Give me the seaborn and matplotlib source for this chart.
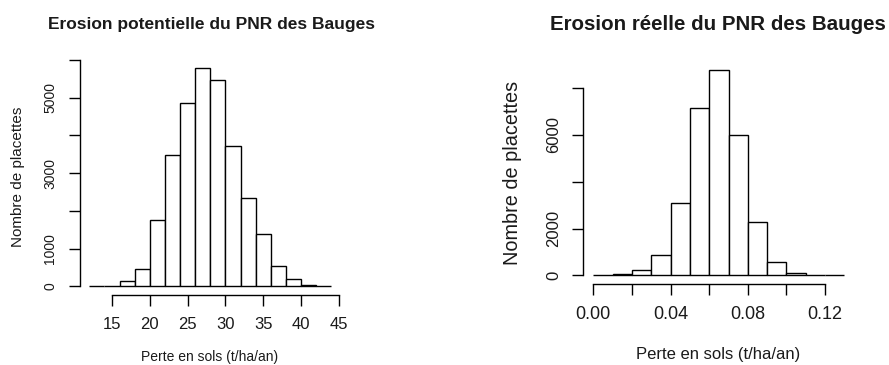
import numpy as np
import pandas as pd
import matplotlib
matplotlib.use("Agg")
import matplotlib.pyplot as plt
import seaborn as sns

# Potential erosion: bin edges (t/ha/an) and number of plots per bin
pot_edges = [12, 14, 16, 18, 20, 22, 24, 26, 28, 30, 32, 34, 36, 38, 40, 42, 44]
pot_counts = [0, 0, 133, 451, 1743, 3469, 4858, 5779, 5460, 3717, 2327, 1372, 549, 186, 35, 0]

# Actual erosion: bin edges (t/ha/an) and number of plots per bin
reel_edges = [0.00, 0.01, 0.02, 0.03, 0.04, 0.05, 0.06, 0.07, 0.08, 0.09, 0.10, 0.11, 0.12, 0.13]
reel_counts = [0, 57, 229, 886, 3100, 7157, 8771, 5986, 2271, 571, 100, 0, 0]

pot_xticks = [15, 20, 25, 30, 35, 40, 45]
pot_yticks = [0, 1000, 2000, 3000, 4000, 5000, 6000]
pot_ylabels = ["0", "1000", "", "3000", "", "5000", ""]
reel_xticks = [0.00, 0.02, 0.04, 0.06, 0.08, 0.10, 0.12]
reel_xlabels = ["0.00", "", "0.04", "", "0.08", "", "0.12"]
reel_yticks = [0, 2000, 4000, 6000, 8000]
reel_ylabels = ["0", "2000", "", "6000", ""]

titles = ["Erosion potentielle du PNR des Bauges", "Erosion réelle du PNR des Bauges"]
xlabel = "Perte en sols (t/ha/an)"
ylabel = "Nombre de placettes"

sns.set_style("white")
plt.rcParams["font.family"] = ["Liberation Sans", "DejaVu Sans"]

W, H = 889, 365
fig = plt.figure(figsize=(W / 100, H / 100), dpi=100)


def px_axes(x0, x1, y0, y1):
    return fig.add_axes([x0 / W, 1 - y1 / H, (x1 - x0) / W, (y1 - y0) / H])


def draw_panel(ax, edges, counts, xticks, xticklabels, yticks, yticklabels,
               tick_fs, xlab_fs, ylab_fs, ytick_fs):
    centers = [(a + b) / 2 for a, b in zip(edges[:-1], edges[1:])]
    df = pd.DataFrame({"x": centers, "n": counts})
    sns.histplot(data=df, x="x", weights="n", bins=list(edges), ax=ax,
                 color="white", edgecolor="black", linewidth=1.0, alpha=1.0)
    # R-style extended ranges (4 % on each side)
    xr = edges[-1] - edges[0]
    ymax = max(counts)
    ax.set_xlim(edges[0] - 0.04 * xr, edges[-1] + 0.04 * xr)
    ax.set_ylim(-0.04 * ymax, 1.04 * ymax)
    for s in ("top", "right"):
        ax.spines[s].set_visible(False)
    for s in ("left", "bottom"):
        ax.spines[s].set_color("black")
        ax.spines[s].set_linewidth(1.0)
    ax.spines["bottom"].set_bounds(xticks[0], xticks[-1])
    ax.spines["left"].set_bounds(yticks[0], yticks[-1])
    ax.set_xticks(xticks)
    ax.set_xticklabels(xticklabels, fontsize=tick_fs)
    ax.set_yticks(yticks)
    ax.set_yticklabels(yticklabels, fontsize=ytick_fs, rotation=90, va="center")
    ax.tick_params(axis="both", direction="out", length=8, width=1.0,
                   color="black", labelcolor="#1a1a1a", left=True, bottom=True)
    ax.tick_params(axis="x", pad=8)
    ax.tick_params(axis="y", pad=8)
    ax.set_xlabel(xlabel, fontsize=xlab_fs, color="#1a1a1a")
    ax.set_ylabel(ylabel, fontsize=ylab_fs, color="#1a1a1a")
    ax.grid(False)
    return ax


ax1 = px_axes(79.6, 341.0, 59.4, 295.0)
draw_panel(ax1, pot_edges, pot_counts, pot_xticks,
           [str(v) for v in pot_xticks], pot_yticks, pot_ylabels,
           tick_fs=12, xlab_fs=10, ylab_fs=11, ytick_fs=10)
ax1.xaxis.set_label_coords((210 - 79.6) / 261.4, (295 - 357) / 235.6)
ax1.xaxis.label.set_va("center")
ax1.yaxis.set_label_coords((18 - 79.6) / 261.4, 0.5)
ax1.yaxis.label.set_va("center")
fig.text(211 / W, 1 - 24 / H, titles[0], ha="center", va="center",
         fontsize=12.5, fontweight="bold", color="#1a1a1a")

ax2 = px_axes(583.3, 854.4, 61.5, 283.7)
draw_panel(ax2, reel_edges, reel_counts, reel_xticks, reel_xlabels,
           reel_yticks, reel_ylabels,
           tick_fs=13, xlab_fs=12, ylab_fs=14.3, ytick_fs=12)
ax2.xaxis.set_label_coords((718 - 583.3) / 271.1, (283.7 - 355) / 222.2)
ax2.xaxis.label.set_va("center")
ax2.yaxis.set_label_coords((512 - 583.3) / 271.1, 0.5)
ax2.yaxis.label.set_va("center")
fig.text(718 / W, 1 - 24 / H, titles[1], ha="center", va="center",
         fontsize=14.8, fontweight="bold", color="#1a1a1a")

fig.savefig("out.png", dpi=100, facecolor="white")
